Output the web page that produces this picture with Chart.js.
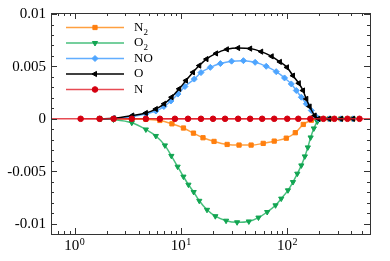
<!DOCTYPE html>
<html>
<head>
    <title>Species profiles</title>
    <style>
        body { margin: 0; background: #ffffff; }
        #chart { display: block; }
    </style>
    <script src="https://cdn.jsdelivr.net/npm/chart.js"></script>
</head>
<body>
    <canvas id="chart" width="390" height="261"></canvas>
    <script>
        // series (x on log axis, y raw value)
        const n2X = [1.72, 2.33, 3.45, 4.68, 6.34, 8.23, 10.56, 13.12, 16.13, 20.48, 27.2, 35.2, 45.7, 59.4, 75.4, 97.9, 119, 141.5, 168.4, 196, 248, 320, 415];
        const n2Y = [0, 0, -0.00002, -0.00005, -0.00016, -0.00048, -0.00088, -0.00137, -0.00181, -0.00216, -0.00245, -0.00251, -0.00251, -0.00235, -0.00213, -0.00185, -0.00133, -0.00054, -0.00014, 0, 0, 0, 0];

        const o2X = [1.72, 2.32, 3.45, 4.68, 5.81, 7.07, 8.13, 9.31, 10.56, 11.77, 13.18, 14.88, 17.59, 21.07, 26.58, 33.75, 43.53, 53.6, 64.76, 77.56, 87.8, 101.5, 113.2, 124.3, 135.6, 146.3, 156.1, 165.9, 177.8, 191.9, 202.6, 248, 320, 415];
        const o2Y = [0, -0.00007, -0.00038, -0.00102, -0.00164, -0.00254, -0.00354, -0.00457, -0.00552, -0.00629, -0.00699, -0.00783, -0.00869, -0.0093, -0.00973, -0.00988, -0.0098, -0.00943, -0.0089, -0.00826, -0.00762, -0.00683, -0.00604, -0.00524, -0.00445, -0.00359, -0.00273, -0.00178, -0.00092, -0.00026, 0, 0, 0, 0];

        const noX = [1.72, 2.33, 3.49, 4.68, 5.81, 6.91, 8.05, 9.37, 10.91, 13.35, 15.44, 18.9, 23.49, 29.95, 38.7, 49.9, 63.39, 78.76, 94.3, 109.1, 121.6, 135.6, 151.1, 168.4, 183.8, 196, 248, 320, 415];
        const noY = [0, 0.00003, 0.00022, 0.00046, 0.00074, 0.00117, 0.0017, 0.00236, 0.00308, 0.00379, 0.00441, 0.00491, 0.00527, 0.0055, 0.00555, 0.00539, 0.00501, 0.0045, 0.0039, 0.00333, 0.0027, 0.00206, 0.00143, 0.00079, 0.00027, 0, 0, 0, 0];

        const oX = [1.72, 2.33, 3.49, 4.68, 5.81, 6.96, 8.17, 9.64, 11.15, 12.98, 14.88, 17.4, 21.39, 27.05, 34.5, 44.77, 56.85, 71.4, 85.3, 99.4, 113.2, 128.4, 140.7, 151.1, 162.3, 180.9, 196, 248, 320, 415];
        const oY = [0, 0.00005, 0.00031, 0.00055, 0.00093, 0.00143, 0.00206, 0.00286, 0.00365, 0.00444, 0.00508, 0.0057, 0.00624, 0.00663, 0.00676, 0.0067, 0.00641, 0.00596, 0.00543, 0.00491, 0.00412, 0.00339, 0.0027, 0.0019, 0.00117, 0.00031, 0, 0, 0, 0];

        const nX = [1.14, 1.72, 2.33, 3.45, 4.68, 6.34, 8.78, 11.65, 15.44, 20.04, 26.01, 34.5, 44.77, 58.1, 75.41, 100, 127, 164.8, 218.6, 277.5, 368.1, 477.8];
        const nY = [0, 0, 0, 0, 0, 0, 0, 0, 0, 0, 0, 0, 0, 0, 0, 0, 0, 0, 0, 0, 0, 0];

        const xMajor = [1, 10, 100];
        const xExpLabels = ['0', '1', '2'];
        const yMajor = [0.01, 0.005, 0, -0.005, -0.01];
        const yLabels = ['0.01', '0.005', '0', '-0.005', '-0.01'];

        const SERIF = "'Liberation Serif', 'DejaVu Serif', serif";

        function pts(xs, ys) {
            return xs.map((x, i) => ({ x: x, y: ys[i] }));
        }

        var series = [
            { name: 'N', sub: '2', xs: n2X, ys: n2Y, line: 'rgba(255,128,0,0.75)', mark: '#ff7f0e', style: 'rect', rot: 0, r: 3, order: 5 },
            { name: 'O', sub: '2', xs: o2X, ys: o2Y, line: 'rgba(10,170,80,0.75)', mark: '#12a552', style: 'triangle', rot: 180, r: 3, order: 4 },
            { name: 'NO', sub: '', xs: noX, ys: noY, line: 'rgba(70,160,255,0.85)', mark: '#4ea5ff', style: 'rectRot', rot: 0, r: 3, order: 3 },
            { name: 'O', sub: '', xs: oX, ys: oY, line: '#000000', mark: '#000000', style: 'triangle', rot: -90, r: 3, order: 2 },
            { name: 'N', sub: '', xs: nX, ys: nY, line: 'rgba(225,30,40,0.8)', mark: '#d40010', style: 'circle', rot: 0, r: 2.8, order: 1 }
        ];

        const frame = {
            id: 'frame',
            beforeDatasetsDraw(chart) {
                const ctx = chart.ctx, a = chart.chartArea;
                const y0 = chart.scales.y.getPixelForValue(0);
                ctx.save();
                ctx.strokeStyle = 'rgba(225,30,40,0.8)';
                ctx.lineWidth = 1.5;
                ctx.beginPath();
                ctx.moveTo(a.left, y0);
                ctx.lineTo(a.right, y0);
                ctx.stroke();
                ctx.restore();
            },
            afterDraw(chart) {
                const ctx = chart.ctx, a = chart.chartArea;
                const x = chart.scales.x, y = chart.scales.y;
                ctx.save();
                ctx.strokeStyle = '#333333';
                ctx.lineWidth = 1;
                ctx.strokeRect(a.left + 0.5, a.top + 0.5, a.right - a.left, a.bottom - a.top);

                ctx.beginPath();
                // x ticks, inward on bottom and top
                for (let d = -1; d <= 2; d++) {
                    for (let m = 1; m <= 9; m++) {
                        const v = m * Math.pow(10, d);
                        if (v <= x.min || v >= x.max) continue;
                        const len = m === 1 ? 6 : 3;
                        const px = Math.round(x.getPixelForValue(v)) + 0.5;
                        ctx.moveTo(px, a.bottom); ctx.lineTo(px, a.bottom - len);
                        ctx.moveTo(px, a.top); ctx.lineTo(px, a.top + len);
                    }
                }
                // y ticks, inward on left and right
                for (let k = -11; k <= 10; k++) {
                    const v = k / 1000;
                    const len = k % 5 === 0 ? 6 : 3;
                    const py = Math.round(y.getPixelForValue(v)) + 0.5;
                    ctx.moveTo(a.left, py); ctx.lineTo(a.left + len, py);
                    ctx.moveTo(a.right, py); ctx.lineTo(a.right - len, py);
                }
                ctx.stroke();

                // tick labels
                ctx.fillStyle = '#000000';
                ctx.textBaseline = 'middle';
                ctx.textAlign = 'right';
                ctx.font = '15px ' + SERIF;
                yMajor.forEach((v, i) => {
                    ctx.fillText(yLabels[i], a.left - 5, y.getPixelForValue(v) + 0.5);
                });
                ctx.textAlign = 'left';
                xMajor.forEach((v, i) => {
                    ctx.font = '15px ' + SERIF;
                    const w1 = ctx.measureText('10').width;
                    ctx.font = '10px ' + SERIF;
                    const w2 = ctx.measureText(xExpLabels[i]).width;
                    const start = x.getPixelForValue(v) - (w1 + w2 + 0.5) / 2;
                    ctx.font = '15px ' + SERIF;
                    ctx.fillText('10', start, a.bottom + 12);
                    ctx.font = '10px ' + SERIF;
                    ctx.fillText(xExpLabels[i], start + w1 + 0.5, a.bottom + 8);
                });

                // legend inside the upper left corner
                series.forEach((s, i) => {
                    const ly = a.top + 14.5 + i * 15.5;
                    const lx = a.left + 15;
                    ctx.strokeStyle = s.line;
                    ctx.lineWidth = 1.5;
                    ctx.beginPath();
                    ctx.moveTo(lx, ly);
                    ctx.lineTo(lx + 58, ly);
                    ctx.stroke();
                    ctx.fillStyle = s.mark;
                    ctx.strokeStyle = s.mark;
                    ctx.lineWidth = 1;
                    Chart.helpers.drawPoint(ctx, { pointStyle: s.style, radius: s.r, rotation: s.rot, borderWidth: 1 }, lx + 29, ly);
                    ctx.fillStyle = '#000000';
                    ctx.font = '13px ' + SERIF;
                    ctx.fillText(s.name, lx + 68, ly);
                    if (s.sub) {
                        const w = ctx.measureText(s.name).width;
                        ctx.font = '9px ' + SERIF;
                        ctx.fillText(s.sub, lx + 68 + w, ly + 5);
                    }
                });
                ctx.restore();
            }
        };

        var ctx = document.getElementById('chart').getContext('2d');
        var chart = new Chart(ctx, {
            type: 'line',
            data: {
                datasets: series.map(s => ({
                    label: s.name + s.sub,
                    data: pts(s.xs, s.ys),
                    borderColor: s.line,
                    borderWidth: 1.5,
                    backgroundColor: s.mark,
                    pointBackgroundColor: s.mark,
                    pointBorderColor: s.mark,
                    pointBorderWidth: 1,
                    pointStyle: s.style,
                    pointRotation: s.rot,
                    pointRadius: s.r,
                    cubicInterpolationMode: 'monotone',
                    fill: false,
                    order: s.order
                }))
            },
            options: {
                responsive: false,
                animation: false,
                layout: { padding: { left: 51, right: 20, top: 13, bottom: 27 } },
                scales: {
                    x: { type: 'logarithmic', min: 0.6, max: 600, display: false },
                    y: { type: 'linear', min: -0.011, max: 0.0101, display: false }
                },
                plugins: {
                    legend: { display: false },
                    tooltip: { enabled: false }
                }
            },
            plugins: [frame]
        });
    </script>
</body>
</html>
